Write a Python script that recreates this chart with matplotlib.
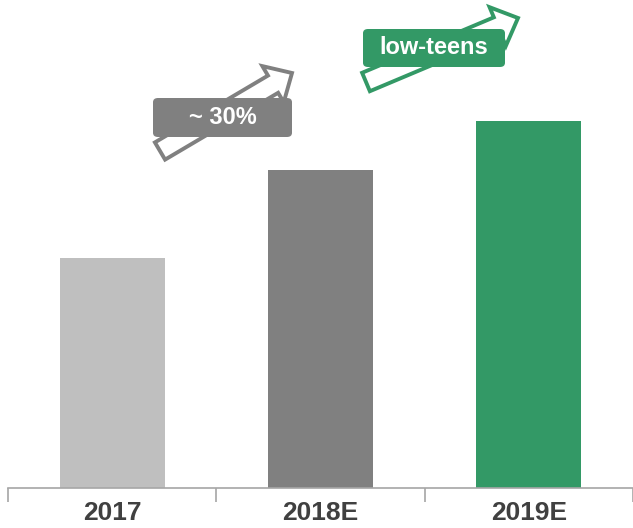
import numpy as np
import matplotlib
matplotlib.use('Agg')
import matplotlib.pyplot as plt
from matplotlib.patches import Polygon, FancyBboxPatch

plt.rcParams['font.family'] = ['Liberation Sans Narrow', 'Liberation Sans', 'DejaVu Sans']

# data
years = ['2017', '2018E', '2019E']
values = [230, 318, 367]
bar_colors = ['#bfbfbf', '#808080', '#339966']

# growth call-outs: label, colour, arrow tail / tip and box (pixels from top-left)
callouts = [
    {'text': '~ 30%', 'color': '#808080', 'tail': (160, 151), 'tip': (292, 73),
     'box': (153, 98, 292, 137)},
    {'text': 'low-teens', 'color': '#339966', 'tail': (366, 82), 'tip': (518, 18),
     'box': (363, 29, 505, 67)},
]

W, H = 633, 528
fig = plt.figure(figsize=(W / 100, H / 100), dpi=100)
ax = fig.add_axes([8 / W, 40 / H, 625 / W, 488 / H])

x = np.arange(len(years))
ax.bar(x, values, width=0.505, color=bar_colors, zorder=2)
ax.set_xlim(-0.5, len(years) - 0.5)
ax.set_ylim(0, 488)

for s in ['top', 'right', 'left']:
    ax.spines[s].set_visible(False)
ax.spines['bottom'].set_color('#a6a6a6')
ax.spines['bottom'].set_linewidth(1.2)
ax.set_yticks([])

ax.set_xticks(np.arange(len(years) + 1) - 0.5)
ax.set_xticklabels([])
ax.tick_params(axis='x', which='major', length=10, color='#a6a6a6', width=1.2)
ax.set_xticks(x, minor=True)
ax.set_xticklabels(years, minor=True, fontsize=19, fontweight='bold', color='#404040')
ax.tick_params(axis='x', which='minor', length=0, pad=9)


def px(p):
    return (p[0] / W, 1 - p[1] / H)


def arrow_outline(tail, tip, shaft=20, head_w=42, head_l=22):
    t = np.array(tail, float)
    h = np.array(tip, float)
    d = h - t
    u = d / np.linalg.norm(d)
    n = np.array([-u[1], u[0]])
    base = h - u * head_l
    pts = [t + n * shaft / 2, base + n * shaft / 2, base + n * head_w / 2, h,
           base - n * head_w / 2, base - n * shaft / 2, t - n * shaft / 2]
    return [px(p) for p in pts]


for c in callouts:
    poly = Polygon(arrow_outline(c['tail'], c['tip']), closed=True, facecolor='white',
                   edgecolor=c['color'], linewidth=2.8, transform=fig.transFigure,
                   joinstyle='miter', zorder=3)
    fig.patches.append(poly)
    x0, y0, x1, y1 = c['box']
    bx, by = px((x0, y1))
    bw, bh = (x1 - x0) / W, (y1 - y0) / H
    box = FancyBboxPatch((bx, by), bw, bh, boxstyle='round,pad=0,rounding_size=0.008',
                         facecolor=c['color'], edgecolor='none',
                         transform=fig.transFigure, zorder=4)
    fig.patches.append(box)
    fig.text(bx + bw / 2, by + bh / 2, c['text'], ha='center', va='center',
             color='white', fontsize=17, fontweight='bold', zorder=5)

fig.savefig('out.png', dpi=100)
